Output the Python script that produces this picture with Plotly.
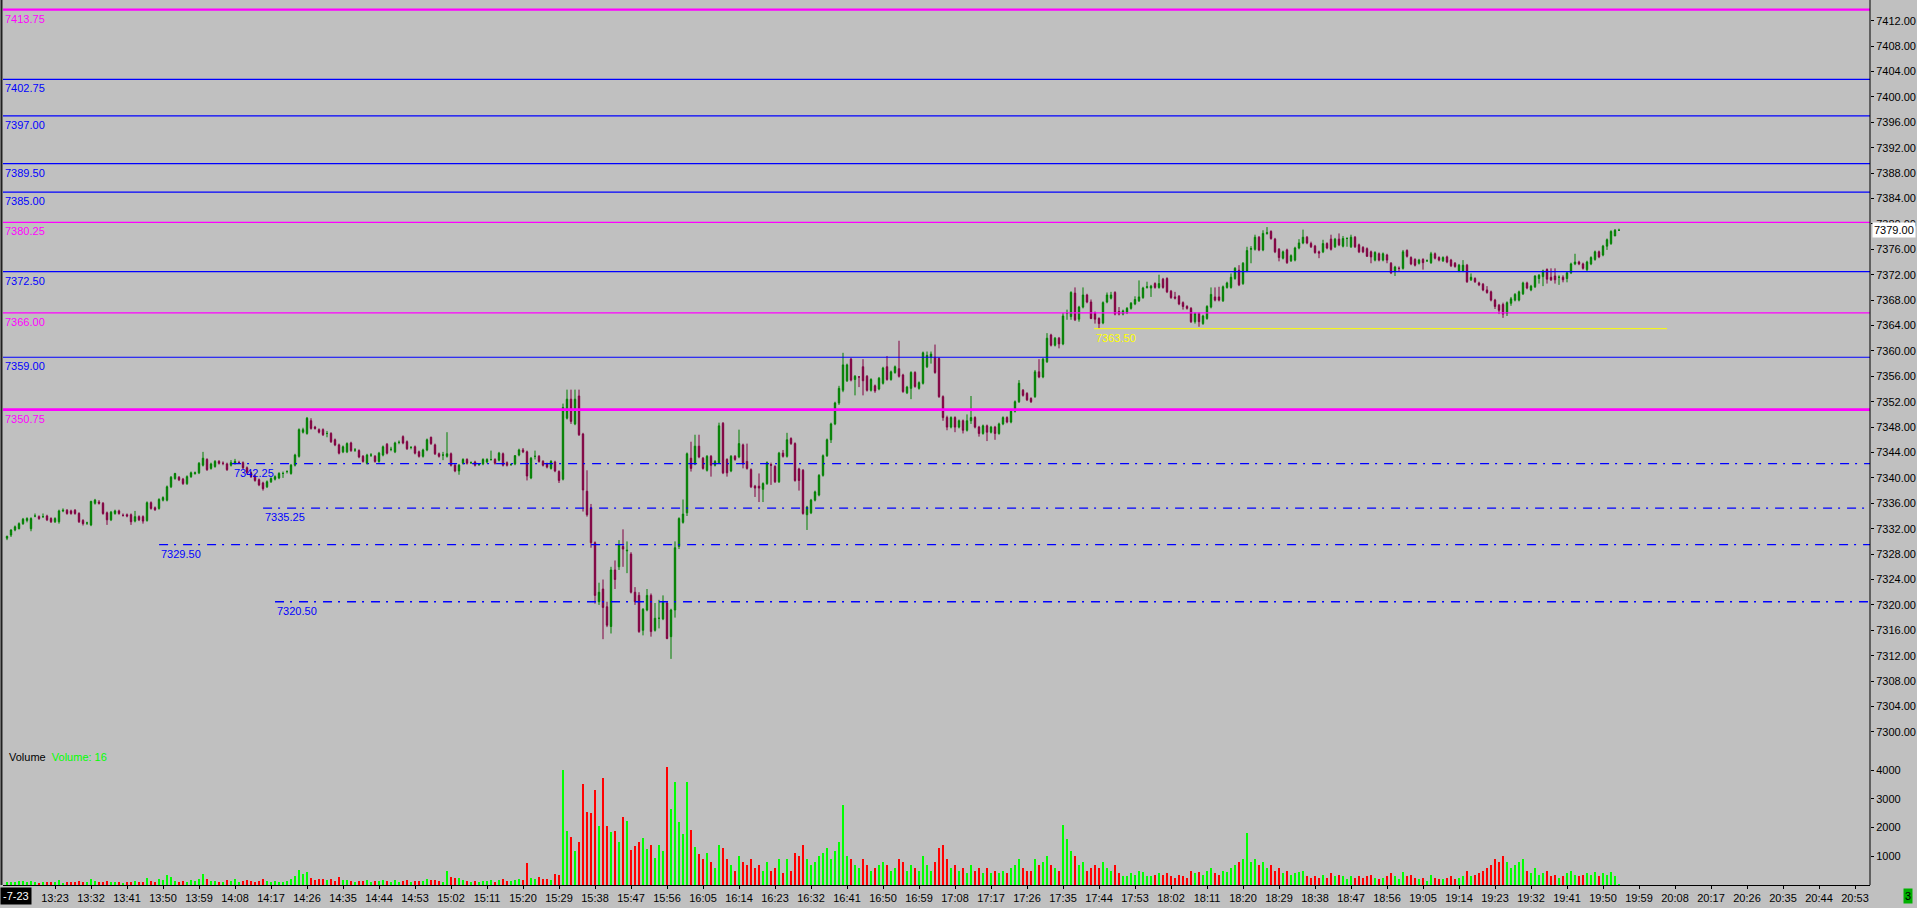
import plotly.graph_objects as go
import pandas as pd

# ---------------- data ----------------
session_date = "2023-11-07"
first_bar = "13:11"

opens = [
7330.5,7331.0,7331.8,7332.0,7332.8,7333.3,7332.0,7334.0,7333.9,7333.9,
7334.0,7333.6,7333.1,7333.1,7334.8,7334.9,7334.8,7334.9,7334.4,7333.3,
7332.9,7332.6,7336.0,7336.2,7336.0,7334.5,7333.4,7334.4,7334.8,7334.1,
7334.2,7334.2,7333.2,7333.9,7333.9,7333.3,7336.1,7335.3,7335.2,7336.5,
7336.5,7338.6,7339.9,7340.1,7339.8,7339.1,7340.2,7340.7,7340.8,7342.0,
7342.9,7341.5,7341.8,7342.6,7342.3,7342.2,7342.0,7342.3,7342.4,7342.4,
7341.6,7340.8,7340.3,7339.7,7339.2,7338.6,7339.4,7339.8,7340.0,7340.7,
7341.0,7340.7,7342.0,7343.4,7347.2,7347.0,7349.0,7348.0,7347.6,7347.6,
7347.0,7347.0,7346.0,7345.2,7344.1,7344.1,7345.5,7344.4,7344.3,7343.4,
7342.3,7343.6,7343.4,7342.6,7343.6,7345.3,7344.5,7344.1,7345.6,7346.5,
7345.7,7344.8,7344.9,7344.1,7343.4,7344.4,7346.4,7345.2,7343.8,7343.6,
7343.4,7343.8,7342.0,7341.1,7342.3,7342.9,7342.4,7342.5,7342.1,7342.2,
7342.5,7342.9,7342.9,7342.8,7343.8,7342.4,7342.1,7342.2,7343.6,7344.4,
7344.1,7340.0,7343.4,7343.4,7342.6,7342.2,7341.5,7342.5,7341.0,7339.8,
7349.4,7352.4,7348.5,7352.9,7346.9,7337.9,7335.3,7329.8,7320.5,7322.5,
7319.7,7316.6,7325.5,7326.0,7329.2,7328.5,7328.0,7322.0,7321.5,7316.0,
7319.2,7321.5,7316.0,7317.9,7317.8,7320.3,7315.0,7319.2,7329.2,7333.0,
7334.5,7343.1,7342.2,7345.0,7343.1,7341.2,7343.4,7342.0,7342.4,7348.6,
7342.9,7341.1,7343.4,7343.3,7345.2,7342.6,7341.3,7338.7,7338.7,7338.2,
7339.1,7342.1,7341.8,7339.4,7343.9,7343.4,7346.2,7345.4,7341.4,7341.2,
7334.2,7334.5,7336.5,7337.3,7340.4,7343.5,7346.0,7348.5,7351.8,7353.8,
7355.3,7358.7,7355.5,7355.9,7357.5,7356.0,7353.8,7354.5,7354.0,7354.9,
7357.5,7355.5,7356.6,7357.2,7356.2,7353.4,7354.1,7356.6,7354.1,7354.9,
7357.5,7359.0,7359.0,7358.8,7352.8,7349.5,7348.0,7349.5,7348.0,7349.0,
7347.5,7349.0,7349.5,7348.0,7347.0,7348.2,7347.2,7348.0,7347.0,7348.5,
7349.5,7348.8,7350.5,7352.0,7353.8,7353.3,7352.5,7352.8,7356.7,7355.9,
7358.3,7362.5,7360.9,7362.0,7361.1,7365.9,7365.4,7369.1,7365.0,7366.9,
7368.8,7367.7,7366.0,7365.1,7364.4,7367.7,7368.3,7369.2,7366.2,7365.8,
7366.0,7366.7,7367.4,7367.9,7368.4,7370.0,7369.9,7370.6,7370.0,7371.3,
7371.4,7369.4,7368.5,7368.6,7367.6,7367.0,7366.7,7364.6,7365.9,7364.3,
7365.1,7366.9,7368.5,7368.5,7367.9,7370.0,7370.0,7371.4,7372.7,7370.6,
7372.6,7376.0,7376.0,7377.9,7375.9,7378.5,7378.8,7377.6,7376.0,7374.6,
7375.9,7374.2,7374.3,7376.2,7377.0,7377.9,7376.9,7376.5,7375.6,7375.6,
7376.9,7377.6,7376.4,7377.6,7376.5,7377.7,7376.4,7377.9,7376.7,7376.3,
7376.1,7375.6,7374.3,7375.3,7374.3,7375.1,7373.8,7372.5,7373.0,7373.0,
7375.8,7374.7,7374.4,7373.8,7374.4,7374.2,7373.9,7375.3,7374.7,7374.2,
7374.8,7374.3,7373.8,7372.6,7372.6,7373.5,7371.2,7371.4,7370.7,7370.5,
7369.6,7369.3,7368.0,7367.2,7367.3,7365.9,7367.5,7368.0,7368.0,7369.0,
7370.7,7369.6,7370.1,7371.4,7371.7,7372.8,7371.6,7371.8,7371.6,7371.6,
7371.4,7372.3,7373.7,7374.0,7373.7,7372.8,7373.7,7374.4,7375.6,7375.1,
7376.5,7376.9,7378.1,7379.0]

highs = [
7330.9,7331.9,7332.5,7333.0,7333.7,7333.8,7333.8,7334.4,7334.1,7334.4,
7334.2,7333.8,7333.8,7335.0,7335.2,7335.1,7335.0,7335.1,7334.6,7333.5,
7333.1,7336.4,7336.7,7336.5,7336.2,7334.7,7334.8,7335.0,7335.0,7334.4,
7334.4,7334.4,7334.8,7334.1,7334.1,7336.3,7336.3,7335.5,7336.8,7337.1,
7338.8,7340.3,7340.8,7340.3,7340.0,7340.4,7341.0,7341.0,7342.5,7344.1,
7343.1,7342.4,7342.8,7342.8,7342.6,7342.4,7342.8,7343.0,7342.7,7342.6,
7341.8,7341.0,7340.5,7339.9,7339.4,7339.6,7340.1,7340.4,7340.9,7341.0,
7341.2,7342.2,7343.8,7347.8,7347.9,7349.6,7349.4,7348.2,7347.8,7347.8,
7347.4,7347.2,7346.2,7345.4,7345.1,7345.6,7345.7,7344.7,7344.5,7343.6,
7343.8,7343.9,7343.6,7344.1,7345.1,7345.5,7344.9,7345.7,7345.9,7346.7,
7345.9,7345.0,7345.1,7344.3,7344.6,7346.2,7346.5,7345.4,7344.0,7344.1,
7347.2,7344.0,7342.2,7342.2,7343.1,7343.1,7342.6,7342.7,7342.3,7343.1,
7343.1,7344.3,7343.1,7344.1,7344.0,7342.6,7342.3,7343.6,7344.6,7344.7,
7344.3,7343.3,7344.3,7343.6,7342.8,7342.4,7342.8,7342.7,7341.2,7351.7,
7353.9,7353.9,7353.9,7353.9,7347.1,7341.2,7335.9,7330.0,7323.5,7324.0,
7320.5,7326.0,7327.0,7330.2,7331.9,7330.0,7328.3,7322.8,7322.0,7319.5,
7322.5,7321.8,7320.3,7320.8,7321.5,7320.5,7319.4,7330.0,7333.8,7336.6,
7344.0,7345.7,7346.8,7346.8,7343.3,7343.6,7343.6,7342.8,7348.7,7348.8,
7343.1,7343.6,7343.6,7347.6,7345.4,7345.4,7341.5,7338.9,7340.7,7339.3,
7342.6,7342.4,7342.0,7344.1,7344.4,7347.1,7346.4,7345.6,7341.6,7341.4,
7335.6,7336.7,7338.0,7340.6,7343.7,7346.2,7348.7,7352.0,7354.5,7359.7,
7358.0,7358.9,7356.2,7356.0,7358.7,7356.2,7355.7,7354.7,7355.9,7357.5,
7359.2,7356.9,7357.7,7361.6,7356.4,7354.5,7356.8,7356.8,7355.2,7359.9,
7359.9,7359.9,7361.0,7359.0,7353.0,7349.8,7349.7,7349.7,7349.2,7349.2,
7350.0,7352.9,7349.7,7348.2,7348.4,7348.4,7348.2,7348.2,7348.7,7349.7,
7349.7,7350.7,7352.2,7355.4,7354.0,7353.5,7352.7,7357.0,7358.7,7358.9,
7362.8,7362.7,7362.2,7362.2,7366.0,7366.5,7369.4,7370.0,7367.1,7370.0,
7369.0,7368.1,7366.2,7365.3,7367.8,7369.2,7369.3,7369.4,7366.9,7366.5,
7366.9,7367.7,7368.6,7371.1,7370.1,7370.9,7370.4,7370.8,7372.0,7371.5,
7371.6,7369.6,7369.3,7368.8,7367.8,7367.2,7366.9,7366.1,7366.1,7365.7,
7367.2,7370.0,7370.0,7370.1,7370.3,7370.9,7372.2,7373.2,7373.5,7374.0,
7376.4,7376.5,7378.3,7378.1,7379.0,7379.5,7379.0,7377.8,7376.2,7375.8,
7376.1,7375.2,7376.4,7377.6,7379.1,7378.1,7377.2,7376.7,7375.8,7377.5,
7377.1,7378.3,7377.8,7378.5,7378.1,7377.9,7378.3,7378.1,7376.9,7376.5,
7376.3,7375.8,7375.7,7375.5,7375.5,7375.3,7374.0,7373.4,7373.3,7375.9,
7376.0,7374.9,7374.6,7374.5,7374.6,7374.4,7375.6,7375.5,7374.9,7374.9,
7375.0,7374.5,7374.0,7373.7,7374.3,7373.7,7372.2,7371.6,7370.9,7370.7,
7370.2,7369.5,7368.2,7367.4,7367.6,7367.8,7368.5,7369.1,7369.5,7370.9,
7370.9,7370.4,7371.9,7372.1,7372.8,7373.0,7373.0,7373.0,7371.9,7371.9,
7372.5,7373.9,7375.3,7374.2,7373.9,7374.2,7374.9,7375.8,7375.8,7376.7,
7377.7,7379.0,7379.2,7379.25]

lows = [
7330.2,7330.7,7331.6,7331.9,7332.6,7333.0,7331.6,7333.8,7333.4,7333.7,
7333.2,7332.9,7332.9,7332.8,7334.6,7334.2,7334.2,7334.2,7332.9,7332.5,
7332.6,7332.4,7335.8,7335.8,7334.2,7332.6,7333.2,7334.2,7334.2,7333.9,
7333.8,7332.6,7333.0,7333.2,7332.8,7333.1,7335.0,7334.8,7335.0,7336.3,
7336.3,7338.4,7339.7,7339.5,7338.9,7338.9,7340.0,7340.5,7340.6,7341.8,
7341.1,7341.3,7341.6,7342.1,7342.0,7341.1,7341.8,7342.1,7342.2,7341.4,
7340.6,7340.0,7339.4,7338.7,7338.0,7338.4,7339.2,7339.6,7339.8,7340.0,
7340.7,7340.5,7341.8,7343.2,7347.0,7346.8,7347.6,7347.6,7347.0,7346.6,
7346.4,7345.5,7345.0,7343.7,7343.9,7343.9,7344.1,7344.1,7343.1,7342.4,
7342.1,7343.3,7342.4,7342.4,7343.4,7343.7,7344.2,7343.9,7345.3,7345.3,
7344.4,7344.5,7343.7,7343.2,7343.2,7344.2,7345.2,7343.6,7343.2,7342.8,
7343.2,7341.8,7340.9,7340.5,7342.1,7342.1,7342.2,7341.8,7341.9,7342.0,
7342.3,7342.7,7342.1,7342.6,7341.8,7341.8,7341.9,7342.0,7343.4,7343.9,
7339.6,7339.8,7342.9,7342.4,7341.8,7341.5,7341.3,7340.9,7339.2,7339.6,
7349.2,7348.5,7348.3,7346.6,7334.7,7333.9,7329.0,7320.2,7320.0,7314.6,
7316.5,7315.5,7322.5,7325.5,7326.0,7325.0,7321.8,7320.0,7315.6,7315.2,
7319.0,7315.0,7315.8,7316.3,7317.6,7314.6,7311.5,7318.0,7328.8,7332.8,
7334.0,7341.0,7342.0,7343.1,7341.3,7341.0,7340.2,7341.8,7342.2,7340.6,
7340.2,7340.9,7342.7,7343.1,7341.5,7341.3,7338.4,7337.0,7336.2,7336.2,
7338.9,7338.9,7339.2,7339.2,7343.2,7343.2,7345.2,7339.4,7338.0,7334.2,
7331.8,7334.3,7336.3,7337.1,7340.2,7343.3,7345.5,7348.3,7351.5,7353.5,
7355.1,7355.2,7353.0,7354.3,7353.0,7353.6,7353.6,7353.4,7353.8,7354.7,
7355.3,7355.3,7356.4,7355.8,7353.4,7353.2,7352.4,7354.2,7353.9,7354.7,
7357.3,7358.0,7356.4,7352.6,7349.0,7347.5,7347.8,7347.2,7347.8,7347.0,
7347.3,7348.5,7347.8,7346.5,7346.8,7345.8,7347.0,7346.0,7346.8,7348.3,
7348.6,7348.6,7350.3,7351.8,7352.8,7352.1,7351.8,7352.6,7355.7,7355.7,
7358.1,7360.7,7360.7,7360.4,7360.9,7364.9,7364.9,7364.7,7364.6,7366.7,
7367.5,7365.0,7364.3,7363.5,7364.2,7367.5,7368.1,7365.6,7365.6,7365.6,
7365.8,7366.5,7367.2,7367.7,7368.2,7369.8,7368.5,7369.8,7369.8,7369.8,
7369.1,7368.2,7368.1,7367.2,7366.5,7366.5,7364.4,7364.3,7363.8,7364.1,
7364.9,7366.7,7367.8,7367.8,7367.7,7369.8,7369.8,7371.2,7370.2,7370.4,
7372.4,7373.8,7375.8,7375.7,7375.7,7378.3,7377.5,7375.4,7374.1,7374.4,
7373.7,7374.0,7374.1,7376.0,7376.8,7376.8,7376.2,7375.3,7374.6,7375.4,
7376.0,7375.8,7376.2,7376.5,7376.3,7376.4,7376.2,7376.2,7375.4,7375.4,
7374.8,7373.8,7374.1,7374.1,7374.1,7373.8,7372.1,7371.8,7372.5,7372.8,
7374.7,7373.5,7373.3,7373.6,7372.8,7374.0,7373.7,7374.4,7374.1,7374.0,
7373.8,7373.2,7373.1,7372.4,7372.4,7370.7,7371.0,7370.7,7370.2,7369.4,
7369.0,7367.8,7366.6,7365.8,7365.2,7365.5,7367.1,7367.8,7367.8,7368.8,
7369.7,7369.4,7369.9,7370.6,7370.2,7370.6,7371.0,7370.6,7370.4,7370.8,
7370.8,7372.1,7373.5,7373.5,7372.8,7372.5,7373.5,7374.2,7374.6,7374.9,
7375.9,7376.7,7378.1,7378.9]

closes = [
7330.8,7331.8,7332.3,7332.8,7333.5,7333.6,7333.6,7334.0,7333.6,7333.9,
7333.4,7333.1,7333.6,7334.8,7334.9,7334.4,7334.4,7334.4,7333.1,7332.8,
7332.9,7336.3,7336.5,7336.0,7334.4,7333.4,7334.6,7334.8,7334.4,7334.1,
7334.0,7333.1,7333.9,7333.4,7333.2,7336.1,7335.2,7335.0,7336.6,7336.9,
7338.6,7340.1,7340.7,7339.7,7339.1,7340.2,7340.8,7340.8,7342.3,7343.1,
7341.3,7342.2,7342.6,7342.3,7342.3,7341.3,7342.4,7342.6,7342.4,7341.6,
7340.8,7340.2,7339.6,7338.9,7338.3,7339.4,7339.9,7340.2,7340.7,7340.7,
7341.0,7342.0,7343.6,7347.6,7347.6,7349.4,7347.8,7347.8,7347.2,7346.8,
7347.0,7345.7,7345.2,7343.9,7344.9,7345.4,7344.3,7344.4,7343.3,7342.6,
7343.6,7343.6,7342.6,7343.9,7344.9,7343.9,7344.5,7345.5,7345.6,7345.5,
7344.6,7344.8,7343.9,7343.4,7344.4,7346.0,7345.4,7343.8,7343.4,7343.6,
7343.8,7342.0,7341.1,7342.0,7342.9,7342.3,7342.4,7342.0,7342.1,7342.9,
7342.9,7342.9,7342.3,7343.9,7342.0,7342.0,7342.1,7343.5,7344.4,7344.1,
7340.3,7343.1,7343.4,7342.6,7342.0,7341.7,7342.6,7341.1,7339.6,7351.1,
7352.4,7348.9,7352.4,7346.8,7338.1,7334.2,7329.8,7321.5,7322.0,7319.6,
7316.8,7325.5,7324.0,7329.4,7328.8,7328.6,7322.0,7320.5,7315.8,7319.3,
7321.5,7315.8,7317.9,7317.9,7320.4,7314.7,7319.2,7329.0,7333.6,7334.3,
7343.8,7341.5,7345.0,7343.3,7341.5,7343.4,7342.0,7342.6,7348.2,7340.8,
7340.8,7343.4,7342.9,7345.4,7342.2,7341.5,7338.6,7338.4,7338.4,7339.1,
7342.4,7342.0,7339.4,7343.9,7343.4,7346.0,7345.4,7339.6,7339.6,7334.4,
7335.4,7336.5,7337.8,7340.4,7343.5,7346.0,7348.5,7351.8,7354.1,7357.8,
7357.8,7355.4,7356.0,7355.9,7355.3,7353.8,7355.5,7353.7,7355.7,7357.3,
7355.5,7356.7,7357.5,7356.0,7353.6,7354.3,7356.6,7354.4,7355.0,7359.7,
7359.3,7359.5,7356.6,7352.8,7349.5,7348.0,7349.5,7348.0,7349.0,7347.5,
7349.0,7349.5,7348.0,7347.0,7348.2,7347.2,7348.0,7347.0,7348.5,7349.5,
7348.8,7350.5,7352.0,7354.9,7353.0,7352.3,7352.0,7356.7,7355.9,7358.7,
7362.0,7360.9,7362.0,7361.1,7365.5,7365.9,7369.2,7364.9,7366.9,7368.8,
7367.7,7365.1,7365.0,7364.3,7367.6,7368.8,7368.8,7365.8,7365.8,7366.3,
7366.7,7367.5,7368.1,7368.5,7369.9,7370.1,7370.2,7370.0,7370.6,7370.0,
7369.3,7368.4,7368.3,7367.4,7367.0,7366.7,7364.6,7365.9,7364.6,7365.5,
7367.0,7368.9,7368.0,7368.0,7370.1,7370.7,7371.6,7373.0,7370.4,7373.8,
7375.8,7376.1,7377.9,7375.9,7378.5,7378.6,7377.7,7375.6,7374.7,7375.6,
7373.9,7375.0,7376.2,7377.0,7377.9,7377.0,7376.4,7375.5,7375.4,7376.9,
7376.2,7376.0,7377.6,7376.7,7377.7,7377.7,7377.9,7376.4,7375.6,7375.6,
7374.9,7374.8,7375.5,7374.3,7375.3,7374.3,7372.3,7373.2,7373.0,7375.6,
7374.9,7373.7,7373.5,7374.3,7373.9,7374.2,7375.3,7374.6,7374.3,7374.7,
7374.0,7373.4,7373.3,7373.5,7373.5,7370.9,7371.6,7370.9,7370.4,7369.6,
7369.2,7368.0,7367.0,7366.4,7365.8,7367.6,7368.2,7368.9,7369.3,7370.7,
7369.9,7370.2,7371.8,7371.9,7372.6,7371.3,7371.2,7371.2,7371.6,7371.2,
7372.3,7373.7,7374.0,7373.7,7373.0,7374.0,7374.7,7375.6,7374.8,7376.5,
7377.5,7378.8,7379.0,7379.0]

volumes = [
120,90,110,150,130,100,140,90,80,110,
100,120,90,160,80,100,110,120,140,100,
90,200,150,110,120,130,100,90,110,80,
90,120,150,100,110,250,130,110,200,180,
360,270,150,120,130,120,180,150,220,390,
200,150,130,110,100,160,140,220,120,140,
160,130,110,150,200,130,120,140,110,120,
150,200,300,530,390,440,250,180,200,220,
180,200,150,270,160,190,140,110,150,130,
160,120,140,150,170,130,110,160,120,150,
160,120,140,150,130,200,180,190,150,120,
470,280,260,240,180,150,120,130,110,150,
140,170,120,160,200,150,130,180,220,160,
750,250,200,280,210,200,190,380,330,4000,
1890,1670,1200,1480,3520,2540,2490,3290,2040,3720,
2070,1850,1890,1510,2370,2240,1230,1370,1480,1620,
1250,1400,950,1400,1200,4100,2650,3570,2180,1760,
3570,1900,1330,1090,900,1100,800,600,1400,1300,
900,700,500,1000,800,700,900,600,700,500,
800,500,600,900,400,900,500,1100,1000,1400,
900,700,800,1000,1100,1300,900,1200,1500,2800,
1000,900,700,600,900,700,500,600,700,800,
700,500,600,900,800,500,700,600,500,1000,
700,500,800,1300,1400,900,600,700,500,600,
400,700,500,600,400,600,400,500,400,500,
400,600,700,900,600,500,500,900,700,800,
1000,700,600,500,2100,1600,1200,1000,700,800,
500,600,700,600,800,600,500,700,400,300,
300,400,350,500,450,300,300,350,400,350,
400,300,250,350,300,250,500,400,450,350,
500,600,400,350,500,450,600,700,800,900,
1800,800,900,700,800,600,700,500,600,400,
500,350,400,450,500,300,250,300,250,350,
250,400,300,350,300,200,300,250,300,250,
300,350,250,200,250,300,400,300,200,450,
300,350,250,200,250,150,350,250,200,200,
250,300,200,250,300,500,300,350,400,500,
600,700,900,800,1000,800,600,700,800,900,
500,400,600,350,400,500,300,350,250,300,
400,500,350,300,350,400,350,450,300,400,
350,450,300,16]

# price levels
solid_levels = [7413.75, 7402.75, 7397.00, 7389.50, 7385.00, 7380.25, 7372.50, 7366.00, 7359.00, 7350.75]
solid_kinds  = ["m", "b", "b", "b", "b", "m", "b", "m", "b", "m"]
dash_levels = [7342.25, 7335.25, 7329.50, 7320.50]
yellow_level = 7363.50
date_label = "-7-23"
tab_label = "3"

# ---------------- styling / layout ----------------
FONT = "Liberation Sans"
BG = "#C0C0C0"
UP, DOWN = "#008000", "#800040"
VUP, VDOWN = "#00FF00", "#FF0000"
BLUE, MAGENTA, YELLOW = "#0000FF", "#FF00FF", "#FFFF00"

times = pd.date_range(f"{session_date} {first_bar}", periods=len(closes), freq="min")
x_left = pd.Timestamp(f"{session_date} 13:10:00")
x_right = pd.Timestamp(f"{session_date} 20:56:45")
tick_times = pd.date_range(f"{session_date} 13:23", f"{session_date} 20:53", freq="9min")

vol_colors = [VUP if c >= o else VDOWN for o, c in zip(opens, closes)]

fig = go.Figure()
fig.add_trace(go.Candlestick(
    x=times, open=opens, high=highs, low=lows, close=closes,
    increasing=dict(line=dict(color=UP, width=1), fillcolor=UP),
    decreasing=dict(line=dict(color=DOWN, width=1), fillcolor=DOWN),
    whiskerwidth=0, xaxis="x", yaxis="y", hoverinfo="skip", showlegend=False))
fig.add_trace(go.Bar(
    x=times, y=volumes, marker=dict(color=vol_colors, line=dict(width=0)),
    width=30000, xaxis="x", yaxis="y2", hoverinfo="skip", showlegend=False))

shapes = []
annotations = []
kind_color = {"m": MAGENTA, "b": BLUE}
thick = {7413.75: 2.2, 7350.75: 2.6}
for lvl, kind in zip(solid_levels, solid_kinds):
    col = kind_color[kind]
    shapes.append(dict(type="line", xref="paper", yref="y", x0=0, x1=1, y0=lvl, y1=lvl,
                       line=dict(color=col, width=thick.get(lvl, 1.2))))
    annotations.append(dict(xref="paper", yref="y", x=0, y=lvl, xanchor="left", yanchor="top",
                            text=f"{lvl:.2f}", showarrow=False, xshift=0, yshift=-1,
                            font=dict(family=FONT, size=11, color=col)))

dash_starts = [0.1227, 0.1393, 0.0836, 0.1457]
for lvl, xs in zip(dash_levels, dash_starts):
    shapes.append(dict(type="line", xref="paper", yref="y", x0=xs, x1=1, y0=lvl, y1=lvl,
                       line=dict(color=BLUE, width=1.3, dash="9px,6px,2px,7px")))
    annotations.append(dict(xref="paper", yref="y", x=xs, y=lvl, xanchor="left", yanchor="top",
                            text=f"{lvl:.2f}", showarrow=False, yshift=-1,
                            font=dict(family=FONT, size=11, color=BLUE)))

shapes.append(dict(type="line", xref="paper", yref="y", x0=0.5844, x1=0.8913,
                   y0=yellow_level, y1=yellow_level, line=dict(color=YELLOW, width=1)))
annotations.append(dict(xref="paper", yref="y", x=0.5844, y=yellow_level, xanchor="left",
                        yanchor="top", text=f"{yellow_level:.2f}", showarrow=False, yshift=-1,
                        font=dict(family=FONT, size=11, color=YELLOW)))

# frame lines
shapes.append(dict(type="line", xref="paper", yref="paper", x0=1, x1=1, y0=0, y1=1,
                   line=dict(color="black", width=1)))
shapes.append(dict(type="line", xref="paper", yref="paper", xsizemode="pixel", xanchor=0,
                   x0=-1.5, x1=-1.5, y0=0, y1=1, line=dict(color="#202020", width=2)))

# current price marker
annotations.append(dict(xref="paper", yref="y", x=1, y=closes[-1], xanchor="left", yanchor="middle",
                        xshift=2, text=f"{closes[-1]:.2f}", showarrow=False, bgcolor="white",
                        borderpad=1, font=dict(family=FONT, size=11, color="black")))
# volume title
annotations.append(dict(xref="paper", yref="paper", x=0, y=0.1446, xanchor="left", yanchor="middle",
                        xshift=4, showarrow=False,
                        text=f"Volume  <span style='color:#00FF00'>Volume: {volumes[-1]}</span>",
                        font=dict(family=FONT, size=11, color="black")))
# date label bottom-left
annotations.append(dict(xref="paper", yref="paper", x=0, y=0, xanchor="left", yanchor="top",
                        xshift=-3, yshift=-2, showarrow=False, text=date_label, bgcolor="black",
                        borderpad=2, font=dict(family=FONT, size=11, color="white")))
# tab marker bottom-right
annotations.append(dict(xref="paper", yref="paper", x=1, y=0, xanchor="left", yanchor="top",
                        xshift=33, yshift=-3, showarrow=False, text=tab_label, bgcolor="#00B000",
                        borderpad=1, font=dict(family=FONT, size=11, color="black")))

fig.update_layout(
    width=1917, height=908,
    margin=dict(l=3, r=47, t=0, b=23),
    paper_bgcolor=BG, plot_bgcolor=BG,
    font=dict(family=FONT, size=11, color="black"),
    showlegend=False, bargap=0, boxgap=0.5, hovermode=False,
    shapes=shapes, annotations=annotations,
    xaxis=dict(domain=[0, 1], anchor="y2", type="date", range=[x_left, x_right],
               tickvals=list(tick_times), tickformat="%H:%M", ticks="outside", ticklen=3,
               tickcolor="black", showline=True, linecolor="black", linewidth=1,
               showgrid=False, zeroline=False, rangeslider=dict(visible=False),
               tickfont=dict(family=FONT, size=11, color="black")),
    yaxis=dict(domain=[0.1582, 1], range=[7297.94, 7415.26], side="right",
               tickvals=list(range(7300, 7413, 4)), tickformat=".2f", ticks="outside",
               ticklen=3, tickcolor="black", showgrid=False, zeroline=False, showline=False,
               tickfont=dict(family=FONT, size=11, color="black")),
    yaxis2=dict(domain=[0, 0.1525], range=[0, 4700], side="right",
                tickvals=[1000, 2000, 3000, 4000], tickformat="d", ticks="outside",
                ticklen=3, tickcolor="black", showgrid=False, zeroline=False, showline=False,
                tickfont=dict(family=FONT, size=11, color="black")),
)

fig.write_html("out.html", config={"displayModeBar": False},
               post_script="document.body.style.margin='0';document.body.style.overflow='hidden';")
